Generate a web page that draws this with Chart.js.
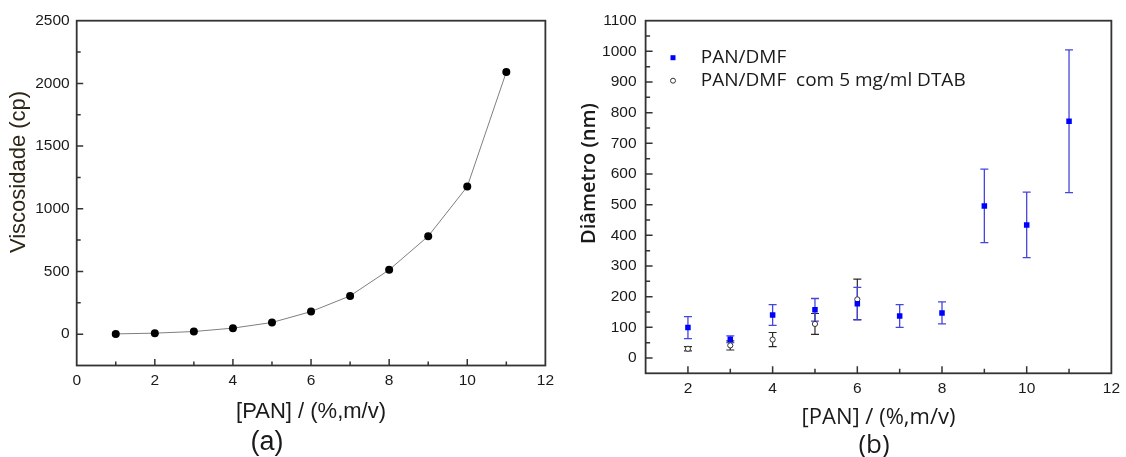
<!DOCTYPE html>
<html><head><meta charset="utf-8">
<script src="https://cdn.jsdelivr.net/npm/chart.js@4/dist/chart.umd.min.js"></script>
<style>
html,body{margin:0;padding:0;background:#fff;width:1126px;height:457px;overflow:hidden}
#wa{position:absolute;left:0;top:0;width:560px;height:457px}
#wb{position:absolute;left:560px;top:0;width:566px;height:457px}
</style></head><body>
<div id="wa"><canvas id="ca"></canvas></div>
<div id="wb"><canvas id="cb"></canvas></div>
<script>
// ---- Chart (a): viscosity ----
const concA = [1, 2, 3, 4, 5, 6, 7, 8, 9, 10, 11];
const viscosity = [2, 8, 21, 48, 93, 180, 305, 513, 781, 1177, 2091];
const xTicksA = [0, 2, 4, 6, 8, 10, 12];
const yTicksA = [0, 500, 1000, 1500, 2000, 2500];

// ---- Chart (b): fibre diameter ----
const concB = [2, 3, 4, 5, 6, 7, 8, 9, 10, 11];
const diamPAN = [99, 61, 140, 157, 177, 137, 147, 496, 434, 772];
const errPAN = [36, 11, 34, 37, 53, 37, 36, 120, 107, 233];
const concDTAB = [2, 3, 4, 5, 6];
const diamDTAB = [30, 41, 60, 111, 191];
const errDTAB = [7, 15, 23, 34, 66];
const xTicksB = [2, 4, 6, 8, 10, 12];
const yTicksB = [0, 100, 200, 300, 400, 500, 600, 700, 800, 900, 1000, 1100];
const seriesNames = ['PAN/DMF', 'PAN/DMF  com 5 mg/ml DTAB'];

const TICK_FONT = {family: 'Liberation Sans', size: 15.5};
const TXT = '#1a1a1a';

function minorOf(major) {
  const m = [];
  for (let i = 0; i < major.length - 1; i++) m.push((major[i] + major[i + 1]) / 2);
  return m;
}

const framePlugin = {
  id: 'frame',
  afterDatasetsDraw(chart, args, o) {
    const {ctx, chartArea: a, scales: {x, y}} = chart;
    ctx.save();
    ctx.strokeStyle = o.color;
    ctx.lineWidth = o.tickWidth;
    ctx.beginPath();
    const xt = (vals, len) => vals.forEach(v => {
      const p = x.getPixelForValue(v);
      if (p <= a.left + 1 || p >= a.right - 1) return;
      ctx.moveTo(p, a.bottom); ctx.lineTo(p, a.bottom - len);
    });
    const yt = (vals, len) => vals.forEach(v => {
      const p = y.getPixelForValue(v);
      if (p <= a.top + 1 || p >= a.bottom - 1) return;
      ctx.moveTo(a.left, p); ctx.lineTo(a.left + len, p);
    });
    xt(o.xMajor, o.majorLen); xt(minorOf(o.xMajor), o.minorLen);
    yt(o.yMajor, o.majorLen); yt(minorOf(o.yMajor), o.minorLen);
    ctx.stroke();
    ctx.lineWidth = o.width;
    ctx.strokeRect(a.left, a.top, a.right - a.left, a.bottom - a.top);
    ctx.restore();
  }
};

const textPlugin = {
  id: 'texts',
  afterDraw(chart, args, o) {
    const ctx = chart.ctx;
    (o.items || []).forEach(it => {
      ctx.save();
      ctx.font = it.font;
      ctx.fillStyle = it.color;
      ctx.textAlign = 'center';
      ctx.textBaseline = 'middle';
      ctx.translate(it.x, it.y);
      if (it.rot) ctx.rotate(it.rot);
      ctx.fillText(it.text, 0, 0);
      ctx.restore();
    });
  }
};

const errorBarPlugin = {
  id: 'errbars',
  beforeDatasetsDraw(chart, args, o) {
    const {ctx, scales: {y}} = chart;
    (o.sets || []).forEach(s => {
      const meta = chart.getDatasetMeta(s.dataset);
      const vals = chart.data.datasets[s.dataset].data;
      ctx.save();
      ctx.strokeStyle = s.color;
      ctx.lineWidth = s.width;
      ctx.beginPath();
      meta.data.forEach((pt, i) => {
        const v = vals[i].y, e = s.errors[i];
        const yt = y.getPixelForValue(v + e), yb = y.getPixelForValue(v - e);
        const px = pt.x;
        ctx.moveTo(px, yt); ctx.lineTo(px, yb);
        ctx.moveTo(px - s.cap, yt); ctx.lineTo(px + s.cap, yt);
        ctx.moveTo(px - s.cap, yb); ctx.lineTo(px + s.cap, yb);
      });
      ctx.stroke();
      ctx.restore();
    });
  }
};

const legendPlugin = {
  id: 'innerLegend',
  afterDraw(chart, args, o) {
    const {ctx, chartArea: a} = chart;
    ctx.save();
    ctx.font = o.font;
    ctx.fillStyle = o.color;
    ctx.textBaseline = 'middle';
    ctx.textAlign = 'left';
    chart.data.datasets.forEach((ds, i) => {
      const yy = a.top + o.rowY[i];
      const xs = a.left + o.symX;
      ctx.save();
      if (ds.pointStyle === 'rect') {
        ctx.fillStyle = ds.pointBackgroundColor;
        ctx.fillRect(xs - o.sq / 2, yy - o.sq / 2, o.sq, o.sq);
      } else {
        ctx.beginPath();
        ctx.arc(xs, yy, o.cr, 0, Math.PI * 2);
        ctx.fillStyle = ds.pointBackgroundColor;
        ctx.fill();
        ctx.strokeStyle = ds.pointBorderColor;
        ctx.lineWidth = 1;
        ctx.stroke();
      }
      ctx.restore();
      ctx.fillText(ds.label, a.left + o.textX, yy);
    });
    ctx.restore();
  }
};

function linearAxis(min, max, ticksArr, opts) {
  return Object.assign({
    type: 'linear', min, max,
    afterBuildTicks: s => { s.ticks = ticksArr.map(v => ({value: v})); },
    grid: {display: false, drawTicks: false},
    border: {display: false},
    ticks: {font: TICK_FONT, color: TXT, autoSkip: false, maxRotation: 0, callback: v => String(v)}
  }, opts);
}

// ---------- Chart (a) ----------
const xA = linearAxis(0, 12, xTicksA, {
  afterFit: s => { s.height = 91.5; },
  title: {display: true, text: '[PAN] / (%,m/v)', color: TXT,
          font: {family: 'Liberation Sans', size: 22}, padding: {top: 0, bottom: 31.5}}
});
xA.ticks.padding = 6;
const yA = linearAxis(-250, 2500, yTicksA, {afterFit: s => { s.width = 76.7; }});
yA.ticks = Object.assign({}, yA.ticks, {padding: 7});

new Chart(document.getElementById('ca'), {
  type: 'scatter',
  data: {datasets: [{
    label: 'Viscosidade',
    data: concA.map((x, i) => ({x, y: viscosity[i]})),
    showLine: true, borderColor: '#7f7f7f', borderWidth: 1,
    pointRadius: 4, pointHoverRadius: 4,
    pointBackgroundColor: '#000', pointBorderColor: '#000', pointBorderWidth: 0
  }]},
  options: {
    responsive: true, maintainAspectRatio: false, animation: false, events: [],
    layout: {padding: {left: 0, top: 20.7, right: 13.4, bottom: 0}},
    plugins: {
      legend: {display: false}, tooltip: {enabled: false},
      frame: {color: '#333', width: 1.8, tickWidth: 1.5, majorLen: 6.5, minorLen: 4, xMajor: xTicksA, yMajor: yTicksA},
      texts: {items: [
        {text: 'Viscosidade (cp)', x: 18.5, y: 172, rot: -Math.PI / 2, font: '22px "Liberation Sans"', color: '#2e2617'},
        {text: '(a)', x: 267, y: 443, font: '27px "Liberation Sans"', color: TXT}
      ]}
    },
    scales: {x: xA, y: yA}
  },
  plugins: [framePlugin, textPlugin]
});

// ---------- Chart (b) ----------
const xB = linearAxis(1, 12, xTicksB, {
  afterFit: s => { s.height = 83.7; },
  title: {display: true, text: '[PAN] / (%,m/v)', color: TXT,
          font: {family: 'Open Sans', size: 22}, padding: {top: 0, bottom: 25.8}}
});
xB.ticks.padding = 6;
const yB = linearAxis(-50, 1100, yTicksB, {afterFit: s => { s.width = 85.6; }});
yB.ticks = Object.assign({}, yB.ticks, {padding: 9});

new Chart(document.getElementById('cb'), {
  type: 'scatter',
  data: {datasets: [
    {label: seriesNames[0], data: concB.map((x, i) => ({x, y: diamPAN[i]})),
     pointStyle: 'rect', pointRadius: 3.9, pointHoverRadius: 3.9,
     pointBackgroundColor: '#0000ff', pointBorderColor: '#0000ff', pointBorderWidth: 0},
    {label: seriesNames[1], data: concDTAB.map((x, i) => ({x, y: diamDTAB[i]})),
     pointStyle: 'circle', pointRadius: 2.6, pointHoverRadius: 2.6,
     pointBackgroundColor: '#ffffff', pointBorderColor: '#333333', pointBorderWidth: 1}
  ]},
  options: {
    responsive: true, maintainAspectRatio: false, animation: false, events: [],
    layout: {padding: {left: 0, top: 20.7, right: 8.8, bottom: 0}},
    plugins: {
      legend: {display: false}, tooltip: {enabled: false},
      frame: {color: '#333', width: 1.8, tickWidth: 1.5, majorLen: 7, minorLen: 4.5, xMajor: xTicksB, yMajor: yTicksB},
      errbars: {sets: [
        {dataset: 1, errors: errDTAB, color: '#2a2a2a', width: 1.2, cap: 4},
        {dataset: 0, errors: errPAN, color: '#4646dc', width: 1.3, cap: 4}
      ]},
      innerLegend: {font: '19px "Open Sans"', color: TXT, rowY: [37, 60], symX: 27.4, textX: 55.2, sq: 5, cr: 2.5},
      texts: {items: [
        {text: 'Diâmetro (nm)', x: 29, y: 173.5, rot: -Math.PI / 2, font: '600 20px "Open Sans"', color: TXT},
        {text: '(b)', x: 314, y: 446, font: '26px "Open Sans"', color: TXT}
      ]}
    },
    scales: {x: xB, y: yB}
  },
  plugins: [framePlugin, textPlugin, errorBarPlugin, legendPlugin]
});
</script>
</body></html>
